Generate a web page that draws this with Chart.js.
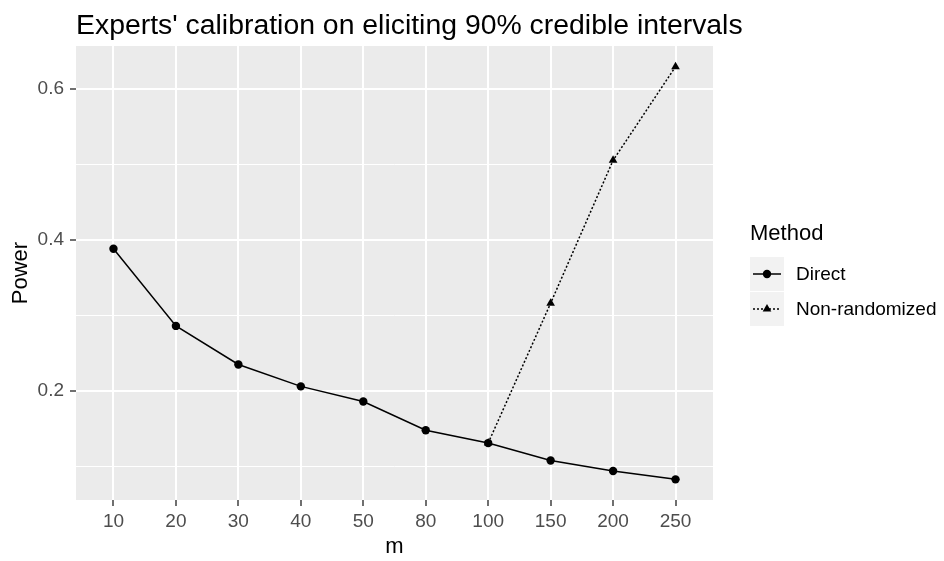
<!DOCTYPE html>
<html>
<head>
<meta charset="utf-8">
<title>Experts' calibration</title>
<script src="https://cdn.jsdelivr.net/npm/chart.js@4"></script>
<style>
  html, body { margin: 0; padding: 0; background: #ffffff; }
  #wrap { width: 944px; height: 561px; position: relative; }
</style>
</head>
<body>
<div id="wrap"><canvas id="powerChart" width="944" height="561"></canvas></div>
<script>
// Sample sizes (discrete x axis) and power for each elicitation method
const mLabels = ['10', '20', '30', '40', '50', '80', '100', '150', '200', '250'];
const directPower = [0.388, 0.286, 0.235, 0.206, 0.186, 0.148, 0.131, 0.108, 0.094, 0.083];
const nonRandPower = [null, null, null, null, null, null, 0.131, 0.316, 0.505, 0.629];
const yTickValues = [0.1, 0.2, 0.3, 0.4, 0.5, 0.6];
const yTickLabels = ['', '0.2', '', '0.4', '', '0.6'];
const methodNames = ['Direct', 'Non-randomized'];

const FONT = "'Liberation Sans', Arial, sans-serif";

// Turn a list of values into {x, y} points on the index axis
function toPoints(values) {
    const pts = [];
    values.forEach((v, i) => {
        if (v !== null) pts.push({ x: i, y: v });
    });
    return pts;
}

// 5% padding around the data range, like ggplot's default
const allValues = directPower.concat(nonRandPower).filter(v => v !== null);
const yLo = Math.min(...allValues);
const yHi = Math.max(...allValues);
const yPad = (yHi - yLo) * 0.05;

// Grey panel behind the plot
const panelBackground = {
    id: 'panelBackground',
    beforeDraw(chart) {
        const { ctx, chartArea } = chart;
        ctx.save();
        ctx.fillStyle = '#ebebeb';
        ctx.fillRect(chartArea.left, chartArea.top, chartArea.right - chartArea.left, chartArea.bottom - chartArea.top);
        ctx.restore();
    }
};

// Title and the legend on the right
const titleAndLegend = {
    id: 'titleAndLegend',
    afterDraw(chart) {
        const ctx = chart.ctx;
        const area = chart.chartArea;
        ctx.save();

        ctx.fillStyle = '#000000';
        ctx.font = '28.4px ' + FONT;
        ctx.textAlign = 'left';
        ctx.textBaseline = 'alphabetic';
        ctx.fillText("Experts' calibration on eliciting 90% credible intervals", area.left, 34);

        // legend title
        const lx = 750;
        ctx.font = '22px ' + FONT;
        ctx.textBaseline = 'middle';
        ctx.fillText('Method', lx, 234);

        const keyTop = [257, 292];
        const keySize = 34;
        chart.data.datasets.forEach((ds, i) => {
            const top = keyTop[i];
            const cy = top + keySize / 2;
            ctx.fillStyle = '#f2f2f2';
            ctx.fillRect(lx, top, keySize, keySize);

            ctx.strokeStyle = '#000000';
            ctx.lineWidth = ds.borderWidth;
            ctx.setLineDash(ds.borderDash || []);
            ctx.beginPath();
            ctx.moveTo(lx + 3, cy);
            ctx.lineTo(lx + keySize - 3, cy);
            ctx.stroke();
            ctx.setLineDash([]);

            ctx.fillStyle = '#000000';
            Chart.helpers.drawPoint(ctx, {
                pointStyle: ds.pointStyle,
                radius: ds.pointRadius,
                borderWidth: 0
            }, lx + keySize / 2, cy);

            ctx.fillStyle = '#000000';
            ctx.font = '19px ' + FONT;
            ctx.textBaseline = 'middle';
            ctx.fillText(ds.label, lx + 46, cy + 1);
        });
        ctx.restore();
    }
};

const ctx = document.getElementById('powerChart').getContext('2d');
new Chart(ctx, {
    type: 'line',
    data: {
        datasets: [
            {
                label: methodNames[0],
                data: toPoints(directPower),
                borderColor: '#000000',
                backgroundColor: '#000000',
                borderWidth: 1.5,
                pointStyle: 'circle',
                pointRadius: 4.2,
                pointBorderWidth: 0,
                tension: 0
            },
            {
                label: methodNames[1],
                data: toPoints(nonRandPower),
                borderColor: '#000000',
                backgroundColor: '#000000',
                borderWidth: 1.5,
                borderDash: [2, 2],
                pointStyle: 'triangle',
                pointRadius: 5,
                pointBorderWidth: 0,
                tension: 0
            }
        ]
    },
    options: {
        responsive: false,
        animation: false,
        layout: { padding: { top: 46, right: 231, left: 0, bottom: 0 } },
        plugins: {
            legend: { display: false },
            title: { display: false },
            tooltip: { enabled: false }
        },
        scales: {
            x: {
                type: 'linear',
                min: -0.6,
                max: mLabels.length - 1 + 0.6,
                afterBuildTicks(scale) {
                    scale.ticks = mLabels.map((_, i) => ({ value: i }));
                },
                afterFit(scale) { scale.height = 61; },
                ticks: {
                    color: '#4d4d4d',
                    font: { family: FONT, size: 19 },
                    padding: 4,
                    maxRotation: 0,
                    autoSkip: false,
                    callback: (value) => mLabels[value]
                },
                grid: {
                    color: '#ffffff',
                    lineWidth: 2,
                    tickLength: 6,
                    tickColor: '#333333',
                    tickWidth: 1.4
                },
                border: { display: false },
                title: {
                    display: true,
                    text: 'm',
                    color: '#000000',
                    font: { family: FONT, size: 22 },
                    padding: { top: 0, bottom: 1 }
                }
            },
            y: {
                type: 'linear',
                min: yLo - yPad,
                max: yHi + yPad,
                afterBuildTicks(scale) {
                    scale.ticks = yTickValues.map(v => ({ value: v }));
                },
                afterFit(scale) { scale.width = 76; },
                ticks: {
                    color: '#4d4d4d',
                    font: { family: FONT, size: 19 },
                    padding: 6,
                    autoSkip: false,
                    callback: (value, index) => yTickLabels[index]
                },
                grid: {
                    color: '#ffffff',
                    lineWidth: (c) => (yTickLabels[c.index] ? 2 : 1),
                    tickLength: 6,
                    tickColor: (c) => (yTickLabels[c.index] ? '#333333' : 'rgba(0,0,0,0)'),
                    tickWidth: 1.4
                },
                border: { display: false },
                title: {
                    display: true,
                    text: 'Power',
                    color: '#000000',
                    font: { family: FONT, size: 22 },
                    padding: { top: 8, bottom: 0 }
                }
            }
        }
    },
    plugins: [panelBackground, titleAndLegend]
});
</script>
</body>
</html>
